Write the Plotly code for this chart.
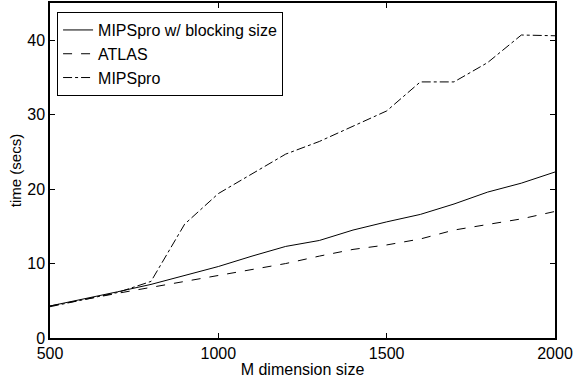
import plotly.graph_objects as go

m_sizes = [500, 600, 700, 800, 900, 1000, 1100, 1200, 1300, 1400, 1500, 1600, 1700, 1800, 1900, 2000]
mipspro_blocking = [4.3, 5.2, 6.2, 7.2, 8.4, 9.6, 11.0, 12.3, 13.1, 14.5, 15.6, 16.6, 18.0, 19.6, 20.8, 22.3]
atlas = [4.3, 5.2, 6.0, 6.8, 7.6, 8.4, 9.2, 10.0, 11.0, 11.9, 12.5, 13.3, 14.5, 15.3, 16.0, 17.0]
mipspro = [4.2, 5.1, 6.1, 7.6, 15.3, 19.4, 22.0, 24.7, 26.4, 28.4, 30.5, 34.4, 34.4, 37.0, 40.7, 40.6]

x_ticks = [500, 1000, 1500, 2000]
y_ticks = [0, 10, 20, 30, 40]

fig = go.Figure()
fig.add_trace(go.Scatter(x=m_sizes, y=mipspro_blocking, mode="lines", name="MIPSpro w/ blocking size",
                         line=dict(color="black", width=1, dash="solid")))
fig.add_trace(go.Scatter(x=m_sizes, y=atlas, mode="lines", name="ATLAS",
                         line=dict(color="black", width=1, dash="dash")))
fig.add_trace(go.Scatter(x=m_sizes, y=mipspro, mode="lines", name="MIPSpro",
                         line=dict(color="black", width=1, dash="dashdot")))

font_family = "Liberation Sans, Arial, Helvetica"
axis_common = dict(showline=True, linecolor="black", linewidth=1.5, mirror="ticks",
                   ticks="inside", ticklen=5, tickcolor="black", showgrid=False, zeroline=False,
                   automargin=False,
                   tickfont=dict(family=font_family, size=16, color="black"))

fig.update_layout(
    width=575, height=380,
    margin=dict(l=50, r=20, t=3, b=42),
    paper_bgcolor="white", plot_bgcolor="white",
    font=dict(family=font_family, size=16, color="black"),
    xaxis=dict(range=[500, 2000], tickvals=x_ticks, ticklabelstandoff=0,
               title=dict(text="M dimension size", standoff=3, font=dict(size=16)), **axis_common),
    yaxis=dict(range=[0, 45], tickvals=y_ticks, ticklabelstandoff=0,
               title=dict(text="time (secs)", standoff=2, font=dict(size=15)), **axis_common),
    legend=dict(x=0.014, y=0.973, xanchor="left", yanchor="top",
                bordercolor="black", borderwidth=1, bgcolor="white",
                font=dict(size=16), tracegroupgap=0, itemwidth=30,
                entrywidth=210, entrywidthmode="pixels"),
    showlegend=True,
)

fig.write_html("out.html",
               config={"displayModeBar": False},
               post_script="document.body.style.margin='0';document.body.style.overflow='hidden';")
